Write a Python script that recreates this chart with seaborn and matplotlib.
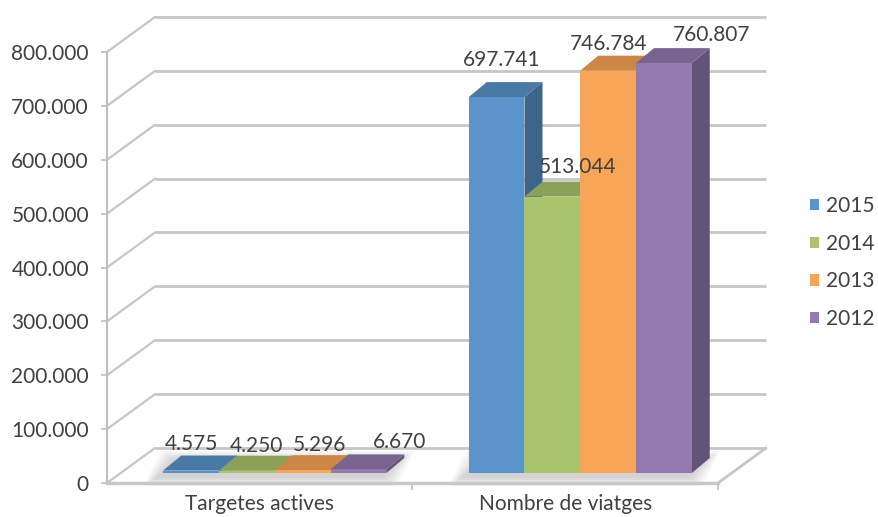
import matplotlib
matplotlib.use("Agg")
import matplotlib.pyplot as plt
import matplotlib.ticker as mticker
from matplotlib.patches import Polygon, Patch
import seaborn as sns
import pandas as pd
import numpy as np

# dades
categories = ["Targetes actives", "Nombre de viatges"]
years = ["2015", "2014", "2013", "2012"]
values_2015 = [4575, 697741]
values_2014 = [4250, 513044]
values_2013 = [5296, 746784]
values_2012 = [6670, 760807]
y_ticks = [0, 100000, 200000, 300000, 400000, 500000, 600000, 700000, 800000]

colors = ["#5B93CB", "#AAC36D", "#F9A557", "#937AB0"]
text_c = "#404040"
grid_c = "#C6C6C6"

# desplaçament (px) de cada etiqueta respecte de la seva barra, ordre d'esquerra a dreta
label_offsets = [(0, 27), (10, 25), (17, 25), (41, 27), (5, 37), (25, 30), (0, 27), (48, 28)]

sns.set_theme(style="white")
plt.rcParams["font.family"] = ["Lato", "DejaVu Sans"]

df = pd.DataFrame({
    "categoria": categories * 4,
    "any": np.repeat(years, 2),
    "valor": values_2015 + values_2014 + values_2013 + values_2012,
})

W, H = 879, 517
fig = plt.figure(figsize=(W / 100, H / 100), dpi=100)
ax = fig.add_axes([107 / W, (H - 483) / H, (718 - 107) / W, (483 - 52) / H])

sns.barplot(data=df, x="categoria", y="valor", hue="any", hue_order=years,
            palette=colors, width=0.73, saturation=1, linewidth=0,
            legend=False, ax=ax)
ax.set_xlim(-0.5, 1.5)
ax.set_ylim(0, 800000)
ax.set_xlabel("")
ax.set_ylabel("")

# conversió de píxels a unitats de dades
p0 = ax.transData.transform((0, 0))
ppx = ax.transData.transform((1, 0))[0] - p0[0]
ppy = ax.transData.transform((0, 1))[1] - p0[1]

def off(dx, dy):
    return dx / ppx, dy / ppy

bx, by = off(15, 10)     # pla de les barres
ddx, ddy = off(18, 15)   # profunditat de les barres
wx, wy = off(48, 35)     # paret del fons

# parets i terra
for v in y_ticks:
    ax.plot([-0.5 + wx, 1.5 + wx], [v + wy, v + wy], color=grid_c, lw=2,
            zorder=1, clip_on=False, solid_capstyle="butt")
    ax.plot([-0.5, -0.5 + wx], [v, v + wy], color=grid_c, lw=1.6,
            zorder=1, clip_on=False)
ax.plot([1.5, 1.5 + wx], [0, wy], color=grid_c, lw=2, zorder=1, clip_on=False)

# barres amb efecte 3D
bars = sorted(ax.patches, key=lambda p: p.get_x())
geo = []
for i, p in enumerate(bars):
    x0, w, h = p.get_x(), p.get_width(), p.get_height()
    c = np.array(p.get_facecolor()[:3])
    x0 = x0 + bx
    geo.append((x0, w))
    p.set_x(x0)
    p.set_y(by)
    p.set_zorder(3 + i * 0.1 + 0.03)
    p.set_clip_on(False)
    side = Polygon([(x0 + w, by), (x0 + w, by + h), (x0 + w + ddx, by + h + ddy),
                    (x0 + w + ddx, by + ddy)], closed=True, facecolor=c * 0.68,
                   edgecolor="none", zorder=3 + i * 0.1 + 0.01, clip_on=False)
    top = Polygon([(x0, by + h), (x0 + w, by + h), (x0 + w + ddx, by + h + ddy),
                   (x0 + ddx, by + h + ddy)], closed=True, facecolor=c * 0.82,
                  edgecolor="none", zorder=3 + i * 0.1 + 0.02, clip_on=False)
    ax.add_patch(side)
    ax.add_patch(top)
    ldx, ldy = off(*label_offsets[i])
    ax.text(x0 + w / 2 + ldx, by + h + ldy, f"{h:,.0f}".replace(",", "."),
            ha="center", va="center", fontsize=15, color=text_c, zorder=10)

# ombra suau sota cada grup de barres
n = len(years)
for g in range(len(categories)):
    gx0 = geo[g * n][0]
    gx1 = geo[g * n + n - 1][0] + geo[g * n + n - 1][1]
    for k in range(1, 6):
        ex, ey = off(3 * k, 2 * k)
        sx, sy = off(-5, -3)
        ax.add_patch(Polygon([(gx0 + sx - ex, by + sy - ey), (gx1 + sx + ex, by + sy - ey),
                              (gx1 + sx + ddx + ex, by + sy + ddy + ey),
                              (gx0 + sx + ddx - ex, by + sy + ddy + ey)],
                             closed=True, facecolor="black", alpha=0.035,
                             edgecolor="none", zorder=2, clip_on=False))

# eixos
for s in ["top", "right"]:
    ax.spines[s].set_visible(False)
ax.spines["left"].set_color("#BFBFBF")
ax.spines["left"].set_linewidth(1.5)
ax.spines["bottom"].set_color("#C8C8C8")
ax.spines["bottom"].set_linewidth(2.5)
ax.set_yticks(y_ticks)
ax.yaxis.set_major_formatter(mticker.FuncFormatter(lambda v, _: f"{v:,.0f}".replace(",", ".")))
ax.set_xticks([0, 1])
ax.set_xticklabels(categories)
ax.set_xticks([0.5, 1.5], minor=True)
ax.tick_params(axis="y", left=True, length=4, width=1.2, color="#BFBFBF",
               labelsize=15, labelcolor=text_c, pad=9)
ax.tick_params(axis="x", which="major", bottom=True, length=0,
               labelsize=15, labelcolor=text_c, pad=8)
ax.tick_params(axis="x", which="minor", bottom=True, length=5, width=1.2, color="#BFBFBF")
ax.grid(False)

handles = [Patch(facecolor=c, edgecolor="none") for c in colors]
leg = fig.legend(handles, years, loc="upper left", bbox_to_anchor=(810 / W, 1 - 196 / H),
                 frameon=False, fontsize=15, handlelength=0.45, handleheight=0.45,
                 handletextpad=0.3, labelspacing=0.85, borderpad=0, borderaxespad=0)
for t in leg.get_texts():
    t.set_color(text_c)

fig.savefig("out.png", dpi=100)
